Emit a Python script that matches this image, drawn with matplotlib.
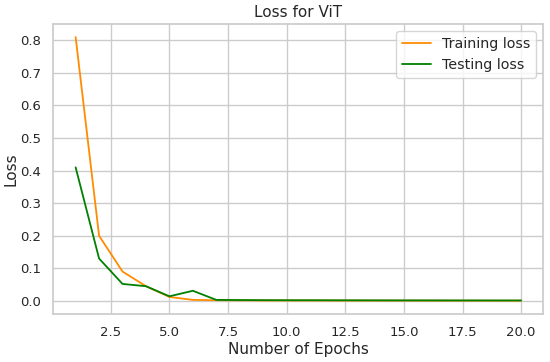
import matplotlib
matplotlib.use("Agg")
import matplotlib.pyplot as plt
import seaborn as sns

epochs = list(range(1, 21))
train_loss = [0.81, 0.20, 0.09, 0.045, 0.012, 0.003, 0.002, 0.0015, 0.0012, 0.0011,
              0.001, 0.001, 0.0009, 0.0008, 0.0008, 0.0007, 0.0007, 0.0006, 0.0006, 0.0006]
test_loss = [0.41, 0.13, 0.052, 0.045, 0.014, 0.031, 0.003, 0.0025, 0.0022, 0.002,
             0.002, 0.0018, 0.0017, 0.0016, 0.0015, 0.0015, 0.0014, 0.0014, 0.0013, 0.0013]

sns.set_theme(style="whitegrid")

fig, ax = plt.subplots(figsize=(5.5, 3.62), dpi=100)
ax.plot(epochs, train_loss, color="darkorange", linewidth=1.3, label="Training loss")
ax.plot(epochs, test_loss, color="green", linewidth=1.3, label="Testing loss")
ax.set_title("Loss for ViT", fontsize=11, pad=5)
ax.set_xlabel("Number of Epochs", fontsize=11, labelpad=2)
ax.set_ylabel("Loss", fontsize=11, labelpad=1)
ax.tick_params(labelsize=9.5, pad=3)
ax.legend(loc="upper right", fontsize=10.3)
fig.subplots_adjust(left=0.097, right=0.988, top=0.934, bottom=0.133)
fig.savefig("out.png", dpi=100)
